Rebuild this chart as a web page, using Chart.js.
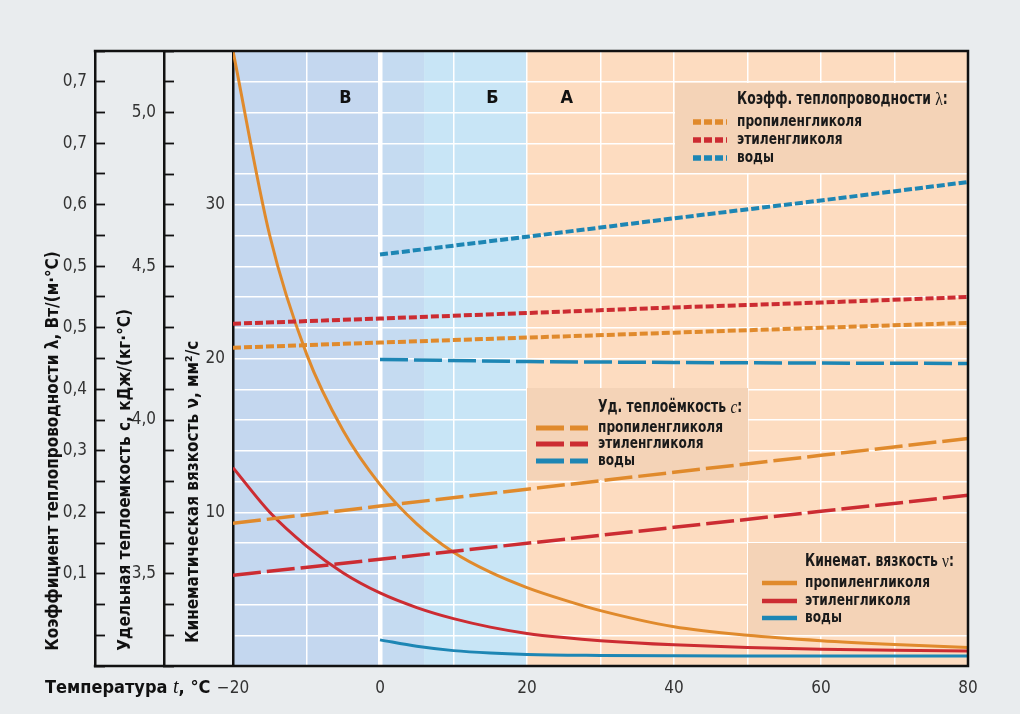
<!DOCTYPE html>
<html lang="ru">
<head>
<meta charset="utf-8">
<title>Теплоносители</title>
<script src="https://cdn.jsdelivr.net/npm/chart.js@4.4.1/dist/chart.umd.min.js"></script>
<style>
  html, body { margin: 0; padding: 0; background: #e9ecee; }
  #wrap { width: 1020px; height: 714px; }
</style>
</head>
<body>
<div id="wrap"><canvas id="grafico" width="1020" height="714"></canvas></div>
<script>
// temperatura, °C
const tempCurvas = [-20, -15, -10, -5, 0, 5, 10, 15, 20, 25, 30, 40, 50, 60, 70, 80];
const tempAgua = [0, 5, 10, 15, 20, 30, 40, 50, 60, 70, 80];
const tempRetas = [-20, 0, 20, 40, 60, 80];
const tempRetasAgua = [0, 20, 40, 60, 80];

// кинематическая вязкость, мм2/с
const nuPropileno = [40, 28.0, 20.3, 15.3, 11.8, 9.25, 7.4, 6.1, 5.1, 4.3, 3.6, 2.55, 2.0, 1.65, 1.4, 1.2];
const nuEtileno = [12.9, 10.0, 7.8, 6.05, 4.75, 3.8, 3.08, 2.53, 2.12, 1.85, 1.65, 1.38, 1.2, 1.09, 1.02, 0.97];
const nuAgua = [1.7, 1.28, 1.0, 0.84, 0.75, 0.69, 0.665, 0.655, 0.65, 0.65, 0.65];

// удельная теплоемкость, кДж/(кг·°С)
const cPropileno = [3.664, 3.72, 3.775, 3.83, 3.885, 3.94];
const cEtileno = [3.495, 3.547, 3.599, 3.651, 3.703, 3.755];
const cAgua = [4.197, 4.19, 4.187, 4.185, 4.184];

// теплопроводность (шкала как на рисунке)
const lamPropileno = [0.4675, 0.476, 0.484, 0.492, 0.5, 0.508];
const lamEtileno = [0.5065, 0.515, 0.524, 0.533, 0.541, 0.55];
const lamAgua = [0.619, 0.648, 0.678, 0.707, 0.737];

// подписи шкал
const lamTickValores = [0.1, 0.2, 0.3, 0.4, 0.5, 0.6, 0.7, 0.8, 0.9];
const lamTickTextos = ['0,1', '0,2', '0,3', '0,4', '0,5', '0,5', '0,6', '0,7', '0,7'];
const cTickValores = [3.5, 4.0, 4.5, 5.0];
const cTickTextos = ['3,5', '4,0', '4,5', '5,0'];
const nuTickValores = [10, 20, 30];
const xTickValores = [-20, 0, 20, 40, 60, 80];

// зоны
const zonaDe = [-20, 0, 6, 20];
const zonaAte = [0, 6, 20, 80];
const zonaCores = ['#c4d7ef', '#c5dbf1', '#c8e5f6', '#fddcc0'];
const zonaLetras = ['В', 'Б', 'А'];
const zonaLetraT = [-4.7, 15.3, 25.4];

const legTitulos = [
    ['Коэфф. теплопроводности ', 'λ', ':'],
    ['Уд. теплоёмкость ', 'c', ':'],
    ['Кинемат. вязкость ', 'ν', ':']
];
const legItens = ['пропиленгликоля', 'этиленгликоля', 'воды'];

const LARANJA = '#e08a2c', VERMELHO = '#cc2c32', AZUL = '#1d86b4';
const FONTE = "'Liberation Sans Narrow', 'DejaVu Sans Condensed', 'Roboto Condensed', 'Liberation Sans', sans-serif";
const SERIFA = '"Liberation Serif", "DejaVu Serif", serif';

Chart.defaults.font.family = FONTE;

function pontos(xs, ys) {
    return xs.map((t, i) => ({ x: t, y: ys[i] }));
}

function achaTexto(valor, valores, textos) {
    const i = valores.findIndex(v => Math.abs(v - valor) < 1e-6);
    return i >= 0 ? textos[i] : '';
}

const tracoLam = [8, 3];
const tracoC = [28, 6];

const datasets = [
    { data: pontos(tempRetas, lamPropileno), yAxisID: 'lam', borderColor: LARANJA, borderWidth: 4, borderDash: tracoLam },
    { data: pontos(tempRetas, lamEtileno), yAxisID: 'lam', borderColor: VERMELHO, borderWidth: 4, borderDash: tracoLam },
    { data: pontos(tempRetasAgua, lamAgua), yAxisID: 'lam', borderColor: AZUL, borderWidth: 4, borderDash: tracoLam },
    { data: pontos(tempRetas, cPropileno), yAxisID: 'cap', borderColor: LARANJA, borderWidth: 3.5, borderDash: tracoC },
    { data: pontos(tempRetas, cEtileno), yAxisID: 'cap', borderColor: VERMELHO, borderWidth: 3.5, borderDash: tracoC },
    { data: pontos(tempRetasAgua, cAgua), yAxisID: 'cap', borderColor: AZUL, borderWidth: 3.5, borderDash: tracoC },
    { data: pontos(tempCurvas, nuPropileno), yAxisID: 'nu', borderColor: LARANJA, borderWidth: 3, cubicInterpolationMode: 'monotone' },
    { data: pontos(tempCurvas, nuEtileno), yAxisID: 'nu', borderColor: VERMELHO, borderWidth: 3, cubicInterpolationMode: 'monotone' },
    { data: pontos(tempAgua, nuAgua), yAxisID: 'nu', borderColor: AZUL, borderWidth: 3, cubicInterpolationMode: 'monotone' }
];
datasets.forEach(d => { d.pointRadius = 0; d.fill = false; });

// caixas das legendas
const caixas = [
    { x: 675, y: 83, w: 293, h: 90, linhaX: 693, linhaW: 34, textoX: 737, tituloY: 100, linhas: [122, 140, 158], series: [0, 1, 2] },
    { x: 527, y: 388, w: 221, h: 92, linhaX: 536, linhaW: 52, textoX: 598, tituloY: 408, linhas: [428, 444, 461], series: [3, 4, 5] },
    { x: 748, y: 543, w: 220, h: 92, linhaX: 762, linhaW: 35, textoX: 805, tituloY: 562, linhas: [583, 601, 618], series: [6, 7, 8] }
];

// texto com fontes misturadas, um pouco comprimido na horizontal
function textoMisto(ctx, partes, x, y, escala) {
    escala = escala || 1;
    partes.forEach(([txt, fonte]) => {
        ctx.font = fonte;
        ctx.save();
        ctx.translate(x, y);
        ctx.scale(escala, 1);
        ctx.fillText(txt, 0, 0);
        ctx.restore();
        x += ctx.measureText(txt).width * escala;
    });
}

const decor = {
    id: 'decor',
    beforeDraw(chart) {
        const { ctx, chartArea: a, scales: { x } } = chart;
        ctx.save();
        for (let i = 0; i < zonaDe.length; i++) {
            const x0 = x.getPixelForValue(zonaDe[i]);
            const x1 = x.getPixelForValue(zonaAte[i]);
            ctx.fillStyle = zonaCores[i];
            ctx.fillRect(x0, a.top, x1 - x0, a.bottom - a.top);
        }
        ctx.restore();
    },
    beforeDatasetsDraw(chart) {
        const { ctx, chartArea: a, scales: { x } } = chart;
        ctx.save();
        ctx.fillStyle = '#111';
        ctx.font = 'bold 18px ' + FONTE;
        ctx.textAlign = 'center';
        ctx.textBaseline = 'middle';
        zonaLetras.forEach((l, i) => ctx.fillText(l, x.getPixelForValue(zonaLetraT[i]), a.top + 47));
        ctx.fillStyle = '#f4d3b7';
        caixas.forEach(c => ctx.fillRect(c.x, c.y, c.w, c.h));
        ctx.restore();
    },
    afterDatasetsDraw(chart) {
        const { ctx } = chart;
        ctx.save();
        ctx.textBaseline = 'middle';
        ctx.fillStyle = '#1a1a1a';
        caixas.forEach((c, k) => {
            const t = legTitulos[k];
            textoMisto(ctx, [
                [t[0], 'bold 17px ' + FONTE],
                [t[1], (k === 1 ? 'italic ' : '') + '19px ' + SERIFA],
                [t[2], 'bold 17px ' + FONTE]
            ], c.textoX, c.tituloY, 0.81);
            c.series.forEach((s, j) => {
                const ds = chart.data.datasets[s];
                ctx.strokeStyle = ds.borderColor;
                ctx.lineWidth = ds.borderWidth + 1.5;
                ctx.setLineDash(ds.borderDash || []);
                ctx.beginPath();
                ctx.moveTo(c.linhaX, c.linhas[j]);
                ctx.lineTo(c.linhaX + c.linhaW, c.linhas[j]);
                ctx.stroke();
                ctx.setLineDash([]);
                textoMisto(ctx, [[legItens[j], 'bold 16px ' + FONTE]], c.textoX, c.linhas[j], 0.845);
            });
        });
        ctx.restore();
    },
    afterDraw(chart) {
        const { ctx, chartArea: a, scales } = chart;
        const esq = scales.lam.right;
        ctx.save();
        ctx.strokeStyle = '#111';
        ctx.lineWidth = 2.5;
        ctx.beginPath();
        ctx.moveTo(esq - 1.2, a.top);
        ctx.lineTo(a.right, a.top);
        ctx.lineTo(a.right, a.bottom);
        ctx.lineTo(esq - 1.2, a.bottom);
        ctx.stroke();
        ctx.fillStyle = '#111';
        ctx.textBaseline = 'middle';
        textoMisto(ctx, [
            ['Температура ', 'bold 18px ' + FONTE],
            ['t', 'italic 20px ' + SERIFA],
            [', °С', 'bold 18px ' + FONTE]
        ], 45, 688);
        ctx.restore();
    }
};

function eixoLateral(peso, largura, min, max, passo, rotulo, tituloTexto, padTitulo, lateral) {
    return {
        type: 'linear',
        position: 'left',
        weight: peso,
        min: min,
        max: max,
        afterFit: s => { s.width = largura; },
        ticks: {
            stepSize: passo,
            autoSkip: false,
            padding: lateral ? 18 : 8,
            color: '#333',
            font: { size: 17 },
            callback: rotulo
        },
        grid: lateral
            ? { drawOnChartArea: false, drawTicks: true, tickLength: -10, tickColor: '#111', tickWidth: 1.8 }
            : { color: '#ffffff', lineWidth: 1.5, drawTicks: false },
        border: { color: '#111', width: 2.5 },
        title: {
            display: true,
            text: tituloTexto,
            align: 'start',
            color: '#111',
            font: { size: 17, weight: 'bold' },
            padding: { top: padTitulo, bottom: 0 }
        }
    };
}

new Chart(document.getElementById('grafico').getContext('2d'), {
    type: 'line',
    data: { datasets: datasets },
    options: {
        responsive: false,
        animation: false,
        layout: { padding: { left: 30, top: 51, right: 52, bottom: 0 } },
        plugins: { legend: { display: false }, tooltip: { enabled: false } },
        scales: {
            x: {
                type: 'linear',
                position: 'bottom',
                min: -20,
                max: 80,
                afterFit: s => { s.height = 48; },
                ticks: {
                    stepSize: 10,
                    autoSkip: false,
                    maxRotation: 0,
                    padding: 12,
                    color: '#333',
                    font: { size: 17 },
                    callback: v => xTickValores.includes(v) ? (v < 0 ? '−' + (-v) : String(v)) : ''
                },
                grid: {
                    color: '#ffffff',
                    drawTicks: false,
                    lineWidth: c => (c.tick && c.tick.value === 0) ? 4.5 : 1.5
                },
                border: { display: false }
            },
            lam: eixoLateral(3, 65, -0.05, 0.95, 0.05,
                v => achaTexto(v, lamTickValores, lamTickTextos),
                '\u2003Коэффициент теплопроводности λ, Вт/(м·°С)', 13, true),
            cap: eixoLateral(2, 69, 3.2, 5.2, 0.1,
                v => achaTexto(v, cTickValores, cTickTextos),
                '\u2003Удельная теплоемкость c, кДж/(кг·°С)', 20, true),
            nu: eixoLateral(1, 69, 0, 40, 2,
                v => nuTickValores.includes(v) ? String(v) : '',
                '\u2003\u2002Кинематическая вязкость ν, мм²/с', 19, false)
        }
    },
    plugins: [decor]
});
</script>
</body>
</html>
